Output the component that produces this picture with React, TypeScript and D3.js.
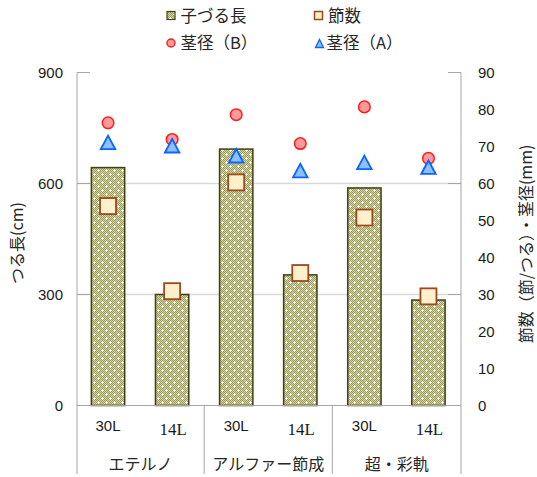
import React from "react";
import * as d3 from "d3";

// Cultivars, each measured under two pot sizes
const groups = ["エテルノ", "アルファー節成", "超・彩軌"];
const categories = ["30L", "14L", "30L", "14L", "30L", "14L"];

// Primary axis: vine length (cm)
const vineLength = [643, 300, 693, 353, 588, 285];
// Secondary axis: node count (nodes/vine) and stem diameter (mm)
const nodeCount = [53.9, 30.9, 60.3, 35.8, 50.8, 29.5];
const stemB = [76.4, 71.9, 78.6, 70.8, 80.7, 66.8];
const stemA = [71.1, 70.2, 67.5, 63.5, 65.7, 64.4];

const leftTicks = [0, 300, 600, 900];
const rightTicks = [0, 10, 20, 30, 40, 50, 60, 70, 80, 90];
const rightMajor = [0, 30, 60, 90];

const W = 537;
const H = 477;
const plot = { left: 77, right: 461, top: 72.5, bottom: 405.5 };

const JP = "'Noto Sans CJK JP', 'Noto Sans', sans-serif";
const SANS = "'Liberation Sans', Arial, sans-serif";
const SERIF = "'Liberation Serif', 'DejaVu Serif', serif";

const OLIVE_STROKE = "#3f3f10";
const SQ_FILL = "#fff0cc";
const SQ_STROKE = "#9a4a1c";
const CIRC_FILL = "#ff9a9a";
const CIRC_STROKE = "#ff1a1a";
const TRI_FILL = "#8cc0ff";
const TRI_STROKE = "#0a64ff";

function checkerPath(size: number) {
  let d = "";
  for (let y = 0; y < size; y++) {
    for (let x = 0; x < size; x++) {
      if ((x + y) % 2 === 0) d += `M${x},${y}h1v1h-1z`;
    }
  }
  return d;
}

function trianglePath(cx: number, cy: number, w: number, h: number) {
  return `M${cx},${cy - h / 2}L${cx + w / 2},${cy + h / 2}L${cx - w / 2},${cy + h / 2}Z`;
}

export default function App() {
  const x = d3
    .scaleBand<number>()
    .domain(d3.range(categories.length))
    .range([76, 460.5])
    .paddingInner(0.48)
    .paddingOuter(0.24);
  const step = x.step();
  const cx = (i: number) => (x(i) ?? 0) + x.bandwidth() / 2;

  const yL = d3.scaleLinear().domain([0, 900]).range([plot.bottom, plot.top]);
  const yR = d3.scaleLinear().domain([0, 90]).range([plot.bottom, plot.top]);

  const groupSize = categories.length / groups.length;
  const dividers = d3.range(groups.length + 1).map((g) =>
    g === 0 ? plot.left : g === groups.length ? plot.right : 76 + g * groupSize * step
  );

  return (
    <div style={{ position: "absolute", left: 0, top: 0 }}>
      <svg width={W} height={H} style={{ display: "block", background: "#fff" }}>
        <defs>
          <pattern id="olive" patternUnits="userSpaceOnUse" width={8} height={8}>
            <rect width={8} height={8} fill="#d6d6a4" />
            <path d={checkerPath(8)} fill="#9b9b55" />
            <path d="M1,2h3v1h-3zM2,1h1v3h-1z" fill="#ffffff" />
            <path d="M5,6h3v1h-3zM6,5h1v3h-1z" fill="#ffffff" />
          </pattern>
        </defs>

        {/* Gridlines */}
        {leftTicks
          .filter((t) => t !== 0 && t !== 900)
          .map((t) => (
            <line
              key={`g${t}`}
              x1={plot.left}
              x2={plot.right}
              y1={yL(t)}
              y2={yL(t)}
              stroke="#d9d9d9"
              strokeWidth={1.3}
            />
          ))}

        {/* Bars: vine length */}
        {vineLength.map((v, i) => (
          <rect
            key={`b${i}`}
            x={x(i)}
            y={yL(v)}
            width={x.bandwidth()}
            height={yL(0) - yL(v)}
            fill="url(#olive)"
            stroke={OLIVE_STROKE}
            strokeWidth={1.5}
          />
        ))}

        {/* Axis lines and inner ticks */}
        <line x1={plot.left} x2={plot.left} y1={plot.top} y2={plot.bottom} stroke="#a6a6a6" />
        <line x1={plot.right} x2={plot.right} y1={plot.top} y2={plot.bottom} stroke="#a6a6a6" />
        {leftTicks.map((t) => (
          <line key={`lt${t}`} x1={plot.left} x2={plot.left + 13} y1={yL(t)} y2={yL(t)} stroke="#a6a6a6" />
        ))}
        {rightMajor.map((t) => (
          <line key={`rt${t}`} x1={plot.right - 13} x2={plot.right} y1={yR(t)} y2={yR(t)} stroke="#a6a6a6" />
        ))}
        <line x1={plot.left} x2={plot.right} y1={plot.bottom} y2={plot.bottom} stroke="#a6a6a6" />

        {/* Category axis dividers */}
        {dividers.map((dx, g) => (
          <line key={`d${g}`} x1={dx} x2={dx} y1={plot.bottom} y2={474} stroke="#a6a6a6" />
        ))}

        {/* Tick labels */}
        {leftTicks.map((t) => (
          <text
            key={`ll${t}`}
            x={63}
            y={yL(t)}
            dy="0.35em"
            textAnchor="end"
            fontFamily={SANS}
            fontSize={15}
            fill="#1a1a1a"
          >
            {t}
          </text>
        ))}
        {rightTicks.map((t) => (
          <text
            key={`rl${t}`}
            x={478}
            y={yR(t)}
            dy="0.35em"
            textAnchor="start"
            fontFamily={SANS}
            fontSize={15}
            fill="#1a1a1a"
          >
            {t}
          </text>
        ))}

        {/* Category labels */}
        {categories.map((c, i) => (
          <text
            key={`c${i}`}
            x={cx(i) + (i % 2 === 0 ? 0 : 1)}
            y={i % 2 === 0 ? 431 : 435}
            textAnchor="middle"
            fontFamily={i % 2 === 0 ? SANS : SERIF}
            fontSize={i % 2 === 0 ? 15 : 17}
            fill="#1a1a1a"
          >
            {c}
          </text>
        ))}
        {groups.map((g, k) => (
          <text
            key={`grp${k}`}
            x={(dividers[k] + dividers[k + 1]) / 2}
            y={470}
            textAnchor="middle"
            fontFamily={JP}
            fontSize={16}
            fill="#262626"
          >
            {g}
          </text>
        ))}

        {/* Axis titles */}
        <text
          transform="translate(23,243) rotate(-90)"
          textAnchor="middle"
          fontFamily={JP}
          fontSize={16}
          fill="#262626"
        >
          つる長(cm)
        </text>
        <text
          transform="translate(532,244) rotate(-90)"
          textAnchor="middle"
          fontFamily={JP}
          fontSize={16}
          fill="#262626"
        >
          節数（節/つる）・茎径(mm)
        </text>

        {/* Stem diameter (B) */}
        {stemB.map((v, i) => (
          <circle
            key={`cb${i}`}
            cx={cx(i)}
            cy={yR(v)}
            r={5.8}
            fill={CIRC_FILL}
            stroke={CIRC_STROKE}
            strokeWidth={1.5}
          />
        ))}
        {/* Stem diameter (A) */}
        {stemA.map((v, i) => (
          <path
            key={`ta${i}`}
            d={trianglePath(cx(i), yR(v), 14.5, 13.5)}
            fill={TRI_FILL}
            stroke={TRI_STROKE}
            strokeWidth={1.8}
            strokeLinejoin="miter"
          />
        ))}
        {/* Node count */}
        {nodeCount.map((v, i) => (
          <rect
            key={`sq${i}`}
            x={cx(i) - 8}
            y={yR(v) - 8}
            width={16}
            height={16}
            fill={SQ_FILL}
            stroke={SQ_STROKE}
            strokeWidth={1.8}
          />
        ))}

        {/* Legend */}
        <g fontFamily={JP} fontSize={16.5} fill="#262626">
          <rect x={167} y={11.5} width={8} height={8} fill="url(#olive)" stroke={OLIVE_STROKE} strokeWidth={1.2} />
          <text x={180.5} y={16} dy="0.36em">子づる長</text>
          <rect x={314.5} y={11.5} width={8} height={8} fill={SQ_FILL} stroke={SQ_STROKE} strokeWidth={1.5} />
          <text x={328} y={16} dy="0.36em">節数</text>
          <circle cx={171} cy={43} r={4} fill={CIRC_FILL} stroke={CIRC_STROKE} strokeWidth={1.4} />
          <text x={180.5} y={43} dy="0.36em">茎径（B）</text>
          <path d={trianglePath(319.5, 43.5, 8, 8)} fill={TRI_FILL} stroke={TRI_STROKE} strokeWidth={1.3} />
          <text x={326.5} y={43} dy="0.36em">茎径（A）</text>
        </g>
      </svg>
    </div>
  );
}
